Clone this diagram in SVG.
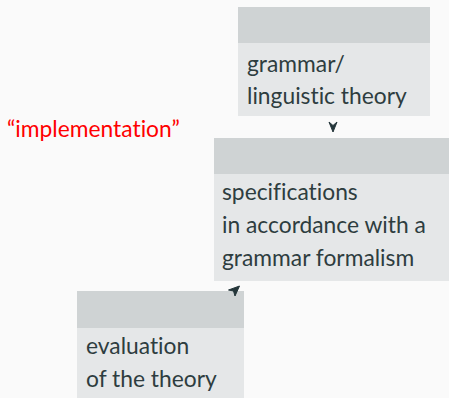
<svg xmlns="http://www.w3.org/2000/svg" width="449" height="398" viewBox="0 0 449 398">
<style>
.hd{fill:#cfd3d4}
.bd{fill:#e5e7e8}
.t{font-family:"Lato","Open Sans",sans-serif;font-size:22.8px;fill:#2e3d3f;font-variant-ligatures:none}
.red{font-family:"Lato","Open Sans",sans-serif;font-size:22.8px;fill:#ff0000;font-variant-ligatures:none}
.ah{fill:#24363a;stroke:#24363a;stroke-width:1;stroke-linejoin:round}
</style>
<rect width="449" height="398" fill="#fafafa"/>
<g id="node-theory">
<rect class="hd" x="238" y="7" width="192" height="36"/>
<rect class="bd" x="238" y="43" width="192" height="73"/>
<text class="t" x="247" y="72">grammar/</text>
<text class="t" x="247" y="104">linguistic theory</text>
</g>
<g id="node-spec">
<rect class="hd" x="214" y="138" width="235" height="36"/>
<rect class="bd" x="214" y="174" width="235" height="107"/>
<text class="t" x="222" y="200">specifications</text>
<text class="t" x="222" y="233">in accordance with a</text>
<text class="t" x="222" y="266">grammar formalism</text>
</g>
<g id="node-eval">
<rect class="hd" x="77" y="291" width="167" height="37"/>
<rect class="bd" x="77" y="328" width="167" height="70"/>
<text class="t" x="86" y="354">evaluation</text>
<text class="t" x="86" y="387">of the theory</text>
</g>
<g id="label-impl">
<text class="red" x="7" y="137">“implementation”</text>
</g>
<g id="connectors">
<path class="ah" d="M333 132 L329 122 L333 125.5 L337 122 Z"/>
<path class="ah" d="M239.5 286 L228.5 290 L233.5 291 L235 296 Z"/>
</g>
</svg>
